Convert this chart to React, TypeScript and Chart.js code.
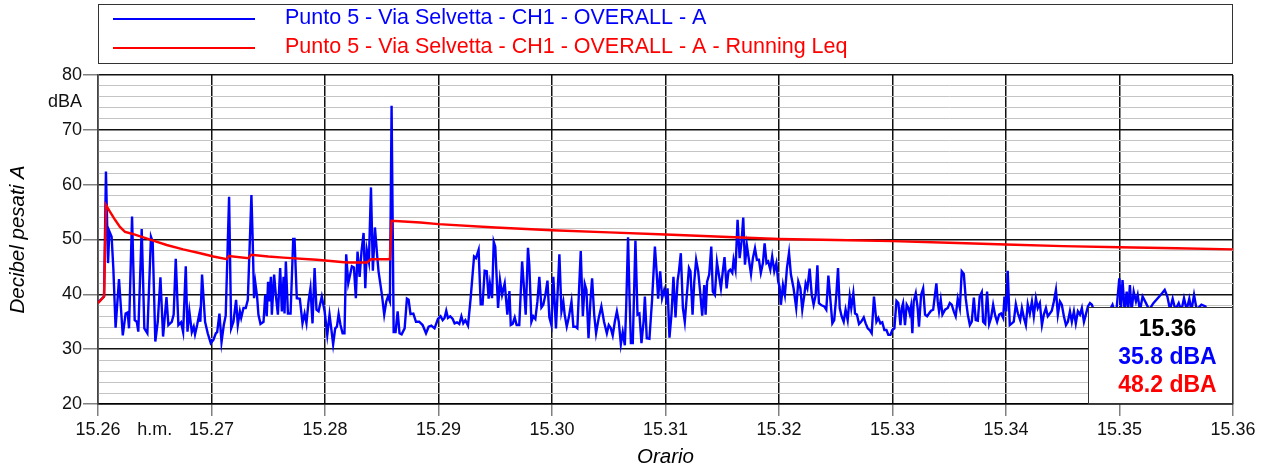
import { useEffect, useRef } from 'react';
import { Chart, registerables } from 'chart.js';

Chart.register(...registerables);

// Time is in seconds after 15.26 (h.m.), levels in dBA
const blueLabel = 'Punto 5 - Via Selvetta - CH1 - OVERALL - A';
const redLabel = 'Punto 5 - Via Selvetta - CH1 - OVERALL - A - Running Leq';

const blueSeries: [number, number][] = [
  [0, 38.5], [3.2, 39.6], [4.2, 62.4], [5.3, 45.7], [6.0, 51.5], [7.2, 50.5], [8.1, 44.8], [9.3, 33.9],
  [11.1, 42.8], [13.1, 32.5], [14.6, 36.5], [15.7, 36.7], [16.4, 33.8], [18.0, 54.2], [19.4, 35.3], [20.5, 35.0],
  [21.3, 33.2], [23.1, 51.9], [24.5, 33.8], [26.1, 32.9], [28.0, 50.5], [28.9, 49.6], [30.3, 31.4], [31.6, 35.0],
  [33.0, 43.1], [34.4, 32.3], [36.2, 39.5], [37.2, 34.4], [39.0, 35.0], [40.0, 36.3], [41.1, 46.5], [42.5, 34.4],
  [43.9, 34.9], [45.0, 33.1], [46.4, 45.1], [47.3, 33.2], [48.3, 36.9], [49.6, 33.1], [50.6, 34.1], [51.3, 32.7],
  [52.4, 34.4], [53.6, 36.5], [54.1, 35.0], [55.0, 43.6], [56.6, 35.0], [58.0, 32.9], [59.6, 31.1], [61.0, 31.7],
  [62.3, 32.9], [63.0, 33.1], [64.2, 36.5], [65.3, 31.3], [66.5, 34.4], [67.5, 36.1], [69.3, 57.8], [70.4, 33.8],
  [71.6, 35.0], [73.0, 39.0], [73.9, 34.4], [75.0, 36.9], [75.7, 35.7], [76.9, 37.5], [78.1, 37.5], [79.2, 39.0],
  [81.1, 58.1], [81.7, 50.8], [82.5, 39.3], [83.2, 42.0], [84.1, 39.6], [84.8, 36.3], [85.9, 34.6], [87.5, 35.0],
  [88.4, 39.9], [89.2, 36.0], [89.9, 42.3], [90.5, 38.7], [91.4, 43.2], [91.9, 36.3], [93.1, 43.6], [94.0, 39.9],
  [95.1, 36.3], [96.3, 44.8], [97.2, 36.9], [98.1, 43.2], [98.6, 36.5], [99.3, 46.0], [100.4, 36.5], [101.8, 36.5],
  [103.2, 50.1], [103.9, 50.1], [105.1, 39.3], [106.7, 39.2], [108.1, 34.7], [109.2, 36.5], [110.2, 34.7], [111.3, 38.7],
  [112.3, 41.1], [113.4, 34.7], [114.5, 44.8], [115.5, 37.2], [116.6, 36.9], [118.3, 39.6], [119.8, 36.9], [121.2, 32.6],
  [122.4, 36.3], [123.3, 33.8], [124.3, 30.9], [125.4, 33.8], [126.3, 34.1], [127.2, 36.4], [128.2, 34.4], [129.3, 32.9],
  [130.3, 32.9], [131.2, 47.3], [132.3, 42.0], [133.3, 43.6], [134.2, 45.1], [135.3, 44.9], [136.3, 39.3], [137.2, 47.8],
  [138.3, 43.2], [139.3, 47.8], [140.4, 51.2], [141.3, 41.1], [142.1, 48.1], [143.2, 46.0], [144.3, 59.5], [145.3, 44.3],
  [146.4, 52.2], [147.4, 47.8], [148.3, 44.2], [150.1, 39.9], [151.3, 36.3], [152.4, 38.7], [153.3, 39.6], [154.3, 38.7],
  [155.2, 74.4], [156.3, 33.1], [157.3, 33.1], [158.4, 36.9], [159.4, 32.9], [160.5, 32.7], [162.1, 33.8], [163.3, 39.2],
  [164.2, 39.0], [165.2, 36.4], [166.7, 36.5], [168.1, 35.0], [169.8, 35.0], [171.6, 34.4], [173.4, 32.9], [174.8, 34.1],
  [176.2, 34.3], [177.9, 33.8], [179.7, 35.5], [181.1, 36.0], [182.2, 35.3], [183.2, 35.7], [184.1, 37.0], [185.0, 35.7],
  [186.2, 36.0], [187.5, 35.5], [188.5, 34.7], [189.8, 34.9], [191.0, 34.6], [192.1, 36.0], [193.1, 34.7], [194.2, 35.3],
  [195.6, 34.3], [197.0, 39.3], [198.8, 46.9], [199.8, 46.6], [201.2, 48.1], [202.3, 38.2], [203.3, 38.2], [204.4, 44.3],
  [205.5, 44.2], [206.5, 39.2], [207.2, 41.9], [208.3, 39.3], [209.2, 49.6], [210.0, 48.7], [211.5, 37.5], [212.5, 42.6],
  [213.6, 39.9], [215.0, 42.0], [216.4, 36.3], [217.5, 40.6], [218.2, 34.4], [219.2, 34.6], [220.3, 35.8], [221.3, 34.4],
  [222.7, 34.4], [224.2, 46.0], [225.2, 41.1], [226.1, 36.3], [227.3, 48.5], [228.0, 45.4], [229.1, 35.0], [230.1, 36.0],
  [231.2, 35.5], [232.3, 38.7], [233.3, 43.2], [234.4, 37.6], [235.4, 38.1], [236.5, 39.9], [237.6, 42.5], [238.6, 35.8],
  [239.7, 34.4], [240.7, 43.2], [242.1, 33.8], [243.9, 47.3], [245.0, 36.9], [246.0, 38.6], [246.7, 36.3], [247.8, 34.1],
  [248.9, 35.8], [250.3, 38.7], [251.3, 34.1], [252.4, 34.1], [253.4, 33.8], [255.2, 47.9], [256.3, 36.0], [257.3, 41.9],
  [258.2, 40.8], [259.3, 32.0], [260.3, 38.7], [261.2, 42.9], [262.3, 36.3], [263.3, 32.9], [264.7, 35.7], [266.1, 37.8],
  [267.5, 35.0], [269.0, 32.9], [270.0, 34.4], [271.1, 33.8], [272.1, 32.5], [273.2, 35.0], [274.3, 36.9], [275.3, 35.0],
  [276.4, 30.9], [277.4, 33.1], [278.5, 30.7], [279.2, 37.5], [280.2, 50.4], [281.0, 39.3], [281.7, 31.1], [282.7, 31.1],
  [284.1, 49.8], [285.2, 36.3], [286.2, 36.5], [287.3, 31.1], [288.4, 35.0], [289.1, 39.6], [290.1, 32.0], [291.5, 31.9],
  [292.9, 39.0], [294.4, 48.7], [295.4, 43.6], [296.1, 39.2], [297.2, 44.2], [298.2, 39.3], [299.3, 40.8], [300.4, 39.2],
  [301.1, 41.1], [302.1, 32.1], [303.2, 36.5], [304.2, 43.2], [305.3, 35.8], [306.4, 42.5], [307.1, 44.2], [308.1, 47.5],
  [309.2, 37.5], [310.2, 35.0], [311.3, 39.9], [312.4, 44.8], [313.2, 44.2], [314.3, 36.3], [315.2, 42.3], [316.2, 46.3],
  [317.3, 44.2], [318.3, 40.5], [319.4, 36.1], [320.5, 41.7], [321.2, 36.3], [322.0, 42.3], [323.1, 43.6], [324.2, 48.7],
  [325.0, 40.5], [326.1, 39.9], [327.2, 45.9], [328.2, 43.6], [329.3, 41.1], [330.3, 44.2], [331.2, 46.8], [332.3, 41.1],
  [333.3, 44.2], [334.2, 44.5], [335.3, 43.9], [336.0, 46.3], [337.0, 44.5], [338.1, 53.6], [339.2, 46.6], [340.2, 49.6],
  [341.1, 54.0], [342.0, 45.4], [343.0, 49.0], [344.1, 46.3], [345.2, 43.7], [346.2, 46.6], [347.3, 48.4], [348.3, 46.3],
  [349.4, 46.3], [350.4, 43.9], [351.5, 45.7], [352.4, 49.3], [353.4, 45.7], [354.3, 46.0], [355.4, 44.5], [356.4, 46.9],
  [357.5, 44.2], [358.6, 45.7], [359.6, 42.3], [360.3, 41.4], [361.0, 38.1], [362.1, 41.7], [363.1, 39.9], [364.2, 44.8],
  [365.3, 47.6], [366.3, 43.6], [367.7, 41.1], [369.1, 37.5], [370.2, 42.3], [371.3, 41.1], [372.3, 37.2], [373.4, 39.9],
  [374.1, 42.0], [375.0, 41.1], [376.2, 44.7], [377.3, 39.9], [378.3, 38.1], [379.4, 39.9], [380.3, 45.3], [381.1, 38.4],
  [382.5, 38.0], [383.9, 37.8], [385.0, 37.2], [386.1, 43.4], [387.1, 39.3], [388.2, 34.7], [389.2, 35.3], [390.3, 39.9],
  [391.2, 44.8], [392.1, 37.5], [393.1, 36.0], [394.2, 35.0], [395.2, 37.2], [396.3, 35.3], [397.4, 39.6], [398.2, 37.5],
  [399.3, 40.2], [400.2, 36.5], [401.2, 36.3], [402.3, 34.6], [403.4, 35.0], [404.8, 35.8], [405.8, 34.7], [406.9, 33.8],
  [407.9, 33.5], [409.0, 32.9], [410.2, 39.6], [411.5, 35.0], [412.5, 35.7], [413.6, 34.7], [414.6, 34.9], [415.7, 33.5],
  [416.8, 33.5], [417.8, 32.6], [418.9, 32.6], [419.9, 33.5], [421.0, 33.8], [422.1, 38.8], [423.1, 38.4], [424.2, 34.4],
  [424.9, 37.5], [425.6, 38.4], [426.6, 34.4], [427.5, 38.1], [428.4, 37.5], [429.1, 36.5], [429.8, 37.8], [430.5, 32.9],
  [431.2, 38.7], [432.3, 40.2], [433.3, 37.5], [434.0, 34.1], [435.1, 39.9], [436.2, 41.1], [437.2, 36.3], [438.3, 36.0],
  [439.3, 36.5], [440.4, 37.0], [441.5, 37.2], [442.2, 39.2], [443.2, 42.0], [443.9, 38.7], [444.6, 36.9], [445.5, 39.0],
  [446.4, 36.3], [447.8, 37.2], [449.2, 37.5], [450.3, 38.4], [451.3, 38.1], [452.4, 36.9], [453.4, 36.0], [454.5, 39.2],
  [455.6, 37.5], [456.6, 44.2], [457.7, 43.7], [458.7, 39.3], [459.8, 36.3], [460.9, 34.4], [461.9, 35.0], [463.0, 39.4],
  [464.0, 35.3], [465.1, 35.2], [466.1, 39.6], [467.2, 40.4], [467.9, 35.0], [469.0, 34.6], [470.0, 40.5], [471.1, 34.6],
  [472.1, 35.7], [473.2, 38.1], [474.3, 36.1], [475.3, 35.0], [476.4, 36.3], [477.4, 36.5], [478.5, 35.7], [479.2, 39.6],
  [480.1, 36.9], [480.9, 44.3], [482.0, 34.4], [483.1, 34.7], [484.1, 35.0], [485.2, 38.2], [486.3, 36.5], [487.5, 35.3],
  [488.4, 37.5], [489.4, 35.8], [490.5, 34.4], [491.5, 38.2], [492.6, 36.5], [493.7, 38.7], [494.7, 36.0], [495.8, 39.3],
  [496.8, 37.5], [497.9, 38.4], [499.0, 34.4], [500.0, 36.3], [501.1, 37.5], [502.1, 36.0], [503.2, 36.5], [504.2, 37.0],
  [505.3, 38.7], [506.4, 40.8], [507.4, 36.3], [508.5, 38.7], [509.5, 38.1], [510.6, 36.0], [511.7, 34.4], [512.7, 35.0],
  [513.8, 36.9], [514.8, 35.0], [515.9, 36.9], [516.9, 34.7], [518.0, 36.9], [519.1, 36.3], [520.1, 37.5], [521.2, 35.0],
  [522.2, 36.3], [523.3, 37.8], [524.4, 38.4], [525.4, 38.1], [527.5, 36.0], [529.0, 37.2], [530.7, 36.4], [532.8, 35.8],
  [534.5, 36.9], [536.3, 38.1], [538.1, 36.0], [539.9, 42.9], [540.8, 37.5], [541.6, 42.6], [542.7, 37.0], [543.8, 40.5],
  [544.6, 37.2], [545.5, 41.7], [546.4, 37.0], [547.5, 40.5], [548.7, 38.7], [549.6, 39.9], [550.8, 37.0], [552.2, 39.6],
  [554.0, 38.4], [555.7, 37.2], [557.9, 38.4], [560.2, 39.3], [562.5, 40.2], [563.9, 40.8], [565.3, 39.6], [566.7, 37.2],
  [568.1, 39.2], [569.5, 37.2], [571.3, 38.4], [572.7, 37.0], [574.1, 39.3], [575.5, 37.2], [576.9, 39.2], [578.0, 37.0],
  [579.4, 39.9], [580.8, 37.2], [583.3, 38.1], [585.4, 37.8], [587.0, 36.5], [589.5, 35.2], [592.0, 36.8], [594.5, 35.4],
  [597.0, 36.6], [600.0, 35.8],
];

const redSeries: [number, number][] = [
  [0, 38.4], [3.2, 39.6], [4.2, 56.3], [6.3, 55.1], [9.0, 53.6], [11.6, 52.3], [14.3, 51.4], [17.5, 51.1],
  [19.5, 50.9], [24.0, 50.4], [30.0, 49.7], [36.3, 49.0], [45.0, 48.2], [54.0, 47.5], [61.0, 46.9], [68.1, 46.4],
  [69.2, 47.0], [79.5, 46.6], [80.9, 47.2], [90.0, 46.9], [98.0, 46.7], [115.7, 46.3], [131.6, 45.8], [142.2, 45.8],
  [144.3, 46.4], [154.3, 46.4], [155.2, 53.4], [170.4, 53.1], [180.0, 52.8], [210.0, 52.2], [240.0, 51.7], [270.0, 51.3],
  [300.0, 50.9], [330.0, 50.5], [360.0, 50.1], [390.0, 49.9], [420.0, 49.7], [450.0, 49.4], [480.0, 49.1], [510.0, 48.8],
  [540.0, 48.6], [570.0, 48.4], [600.0, 48.2],
];

const xTickValues = [0, 30, 60, 120, 180, 240, 300, 360, 420, 480, 540, 600];
const xTickLabels = ['15.26', 'h.m.', '15.27', '15.28', '15.29', '15.30', '15.31', '15.32', '15.33', '15.34', '15.35', '15.36'];
const yMajorTicks = [20, 30, 40, 50, 60, 70, 80];
const yUnitTick = 75;
const yUnitLabel = 'dBA';
const yMinorStep = 2;

const xTitle = 'Orario';
const yTitle = 'Decibel pesati A';

const BLUE = '#0000ff';
const RED = '#ff0000';
const FONT = '"Liberation Sans", Arial, sans-serif';

const overlayPlugin = {
  id: 'overlay',
  afterDraw(chart: any) {
    const { ctx, chartArea: a } = chart;
    ctx.save();

    // Legend box
    const lTop = 4, lBottom = 64;
    ctx.fillStyle = '#fff';
    ctx.fillRect(a.left, lTop, a.right - a.left, lBottom - lTop);
    ctx.strokeStyle = '#333';
    ctx.lineWidth = 1;
    ctx.strokeRect(a.left + 0.5, lTop + 0.5, a.right - a.left - 1, lBottom - lTop - 1);
    const entries = [
      { label: blueLabel, color: BLUE, y: 19 },
      { label: redLabel, color: RED, y: 48 },
    ];
    ctx.font = `21.5px ${FONT}`;
    ctx.textAlign = 'left';
    ctx.textBaseline = 'alphabetic';
    for (const e of entries) {
      ctx.strokeStyle = e.color;
      ctx.lineWidth = 2.2;
      ctx.beginPath();
      ctx.moveTo(113, e.y);
      ctx.lineTo(255, e.y);
      ctx.stroke();
      ctx.fillStyle = e.color;
      ctx.fillText(e.label, 285, e.y + 4.8);
    }

    // Axis titles
    ctx.fillStyle = '#000';
    ctx.font = `italic 20.5px ${FONT}`;
    ctx.textAlign = 'center';
    ctx.textBaseline = 'middle';
    ctx.fillText(xTitle, (a.left + a.right) / 2, 457);
    ctx.save();
    ctx.translate(18, (a.top + a.bottom) / 2);
    ctx.rotate(-Math.PI / 2);
    ctx.fillText(yTitle, 0, 0);
    ctx.restore();

    // Info box with last values
    const bx = 1088, by = 307;
    ctx.fillStyle = '#fff';
    ctx.fillRect(bx, by, a.right - bx, a.bottom - by);
    ctx.strokeStyle = '#333';
    ctx.lineWidth = 1;
    ctx.strokeRect(bx + 0.5, by + 0.5, a.right - bx - 1, a.bottom - by - 1);
    const cx = (bx + a.right) / 2 + 7;
    ctx.font = `bold 23px ${FONT}`;
    ctx.textBaseline = 'alphabetic';
    ctx.fillStyle = '#000';
    ctx.fillText(xTickLabels[xTickLabels.length - 1], cx, 336);
    ctx.fillStyle = BLUE;
    ctx.fillText(`${blueSeries[blueSeries.length - 1][1].toFixed(1)} dBA`, cx, 364);
    ctx.fillStyle = RED;
    ctx.fillText(`${redSeries[redSeries.length - 1][1].toFixed(1)} dBA`, cx, 392);

    ctx.restore();
  },
};

export default function App() {
  const ref = useRef<HTMLCanvasElement>(null);

  useEffect(() => {
    document.body.style.margin = '0';
    const yTicks: number[] = [];
    for (let v = yMajorTicks[0]; v <= yMajorTicks[yMajorTicks.length - 1]; v += yMinorStep) {
      yTicks.push(v);
      if (v < yUnitTick && v + yMinorStep > yUnitTick) yTicks.push(yUnitTick);
    }
    const chart = new Chart(ref.current!, {
      type: 'line',
      data: {
        datasets: [
          {
            label: redLabel,
            data: redSeries.map(([x, y]) => ({ x, y })),
            borderColor: RED,
            borderWidth: 2.4,
            pointRadius: 0,
            tension: 0,
            order: 0,
          },
          {
            label: blueLabel,
            data: blueSeries.map(([x, y]) => ({ x, y })),
            borderColor: BLUE,
            borderWidth: 2.4,
            pointRadius: 0,
            tension: 0,
            order: 1,
          },
        ],
      },
      options: {
        responsive: false,
        animation: false,
        devicePixelRatio: 1,
        layout: { padding: { left: 0, top: 75, right: 28, bottom: 0 } },
        plugins: { legend: { display: false }, tooltip: { enabled: false } },
        scales: {
          x: {
            type: 'linear',
            min: xTickValues[0],
            max: xTickValues[xTickValues.length - 1],
            afterBuildTicks: (s: any) => {
              s.ticks = xTickValues.map((v) => ({ value: v }));
            },
            afterFit: (s: any) => {
              s.height = 64;
            },
            ticks: {
              autoSkip: false,
              maxRotation: 0,
              padding: 3,
              color: '#111',
              font: { family: FONT, size: 18 },
              callback: (v: any) => {
                const i = xTickValues.indexOf(Number(v));
                return i >= 0 ? xTickLabels[i] : '';
              },
            },
            grid: {
              color: (c: any) => (c.tick && c.tick.value === 30 ? 'rgba(0,0,0,0)' : '#111'),
              tickColor: (c: any) => (c.tick && c.tick.value === 30 ? 'rgba(0,0,0,0)' : '#808080'),
              lineWidth: 1.5,
              tickLength: 12,
            },
            border: { color: '#000', width: 1.5 },
          },
          y: {
            type: 'linear',
            min: yMajorTicks[0],
            max: yMajorTicks[yMajorTicks.length - 1],
            afterBuildTicks: (s: any) => {
              s.ticks = yTicks.map((v) => ({ value: v }));
            },
            afterFit: (s: any) => {
              s.width = 98;
            },
            ticks: {
              autoSkip: false,
              padding: 1,
              color: '#111',
              font: { family: FONT, size: 18 },
              callback: (v: any) => {
                const n = Number(v);
                if (n === yUnitTick) return yUnitLabel;
                return yMajorTicks.includes(n) ? String(n) : '';
              },
            },
            grid: {
              color: (c: any) => {
                const v = c.tick ? c.tick.value : 0;
                if (v === yUnitTick) return 'rgba(0,0,0,0)';
                return yMajorTicks.includes(v) ? '#111' : '#c4c4c4';
              },
              lineWidth: (c: any) => {
                const v = c.tick ? c.tick.value : 0;
                return yMajorTicks.includes(v) ? 1.5 : 1;
              },
              tickColor: (c: any) => {
                const v = c.tick ? c.tick.value : 0;
                return yMajorTicks.includes(v) ? '#808080' : 'rgba(0,0,0,0)';
              },
              tickLength: 15,
            },
            border: { color: '#444', width: 1.5 },
          },
        },
      },
      plugins: [overlayPlugin],
    });
    return () => chart.destroy();
  }, []);

  return (
    <div style={{ width: 1261, height: 468 }}>
      <canvas ref={ref} width={1261} height={468} style={{ display: 'block' }} />
    </div>
  );
}
